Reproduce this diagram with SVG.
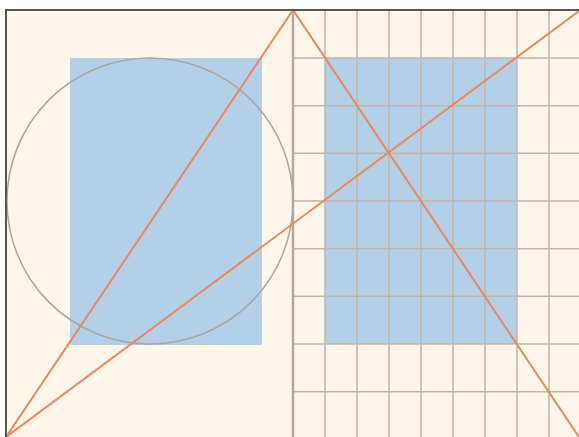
<svg xmlns="http://www.w3.org/2000/svg" width="579" height="437" viewBox="0 0 579 437">
<style>
.grid{stroke:#bfb6ab;stroke-width:1.5;fill:none}
.div{stroke:#b0a9a2;stroke-width:2.5;fill:none}
.blue{fill:#b4cfe8}
.diag{stroke:#e8875a;stroke-width:2;fill:none}
.circ{stroke:#aaa6a2;stroke-width:1.5;fill:none}
.frame{stroke:#5a5654;stroke-width:2;fill:none}
</style>
<rect x="0" y="0" width="579" height="437" fill="#ffffff"/>
<rect x="6" y="10" width="573" height="427" fill="#fef7e9"/>
<g id="left-rect"><rect class="blue" x="70" y="58" width="192" height="287"/></g>
<g id="right-rect"><rect class="blue" x="325" y="58" width="192" height="286"/></g>
<g id="grid">
<path class="grid" d="M325 10V437M357 10V437M389 10V437M421 10V437M453 10V437M485 10V437M517 10V437M549 10V437"/>
<path class="grid" d="M293 58H579M293 105.7H579M293 153.3H579M293 201H579M293 248.7H579M293 296.3H579M293 344H579M293 391.7H579"/>
<path class="div" d="M293 10V437"/>
</g>
<g id="circle"><circle class="circ" cx="150" cy="201" r="143"/></g>
<g id="connectors">
<path class="diag" d="M6 437L293 10L579 437"/>
<path class="diag" d="M6 437L579 11"/>
</g>
<g id="frame"><path class="frame" d="M579 10H6V437"/></g>
</svg>
